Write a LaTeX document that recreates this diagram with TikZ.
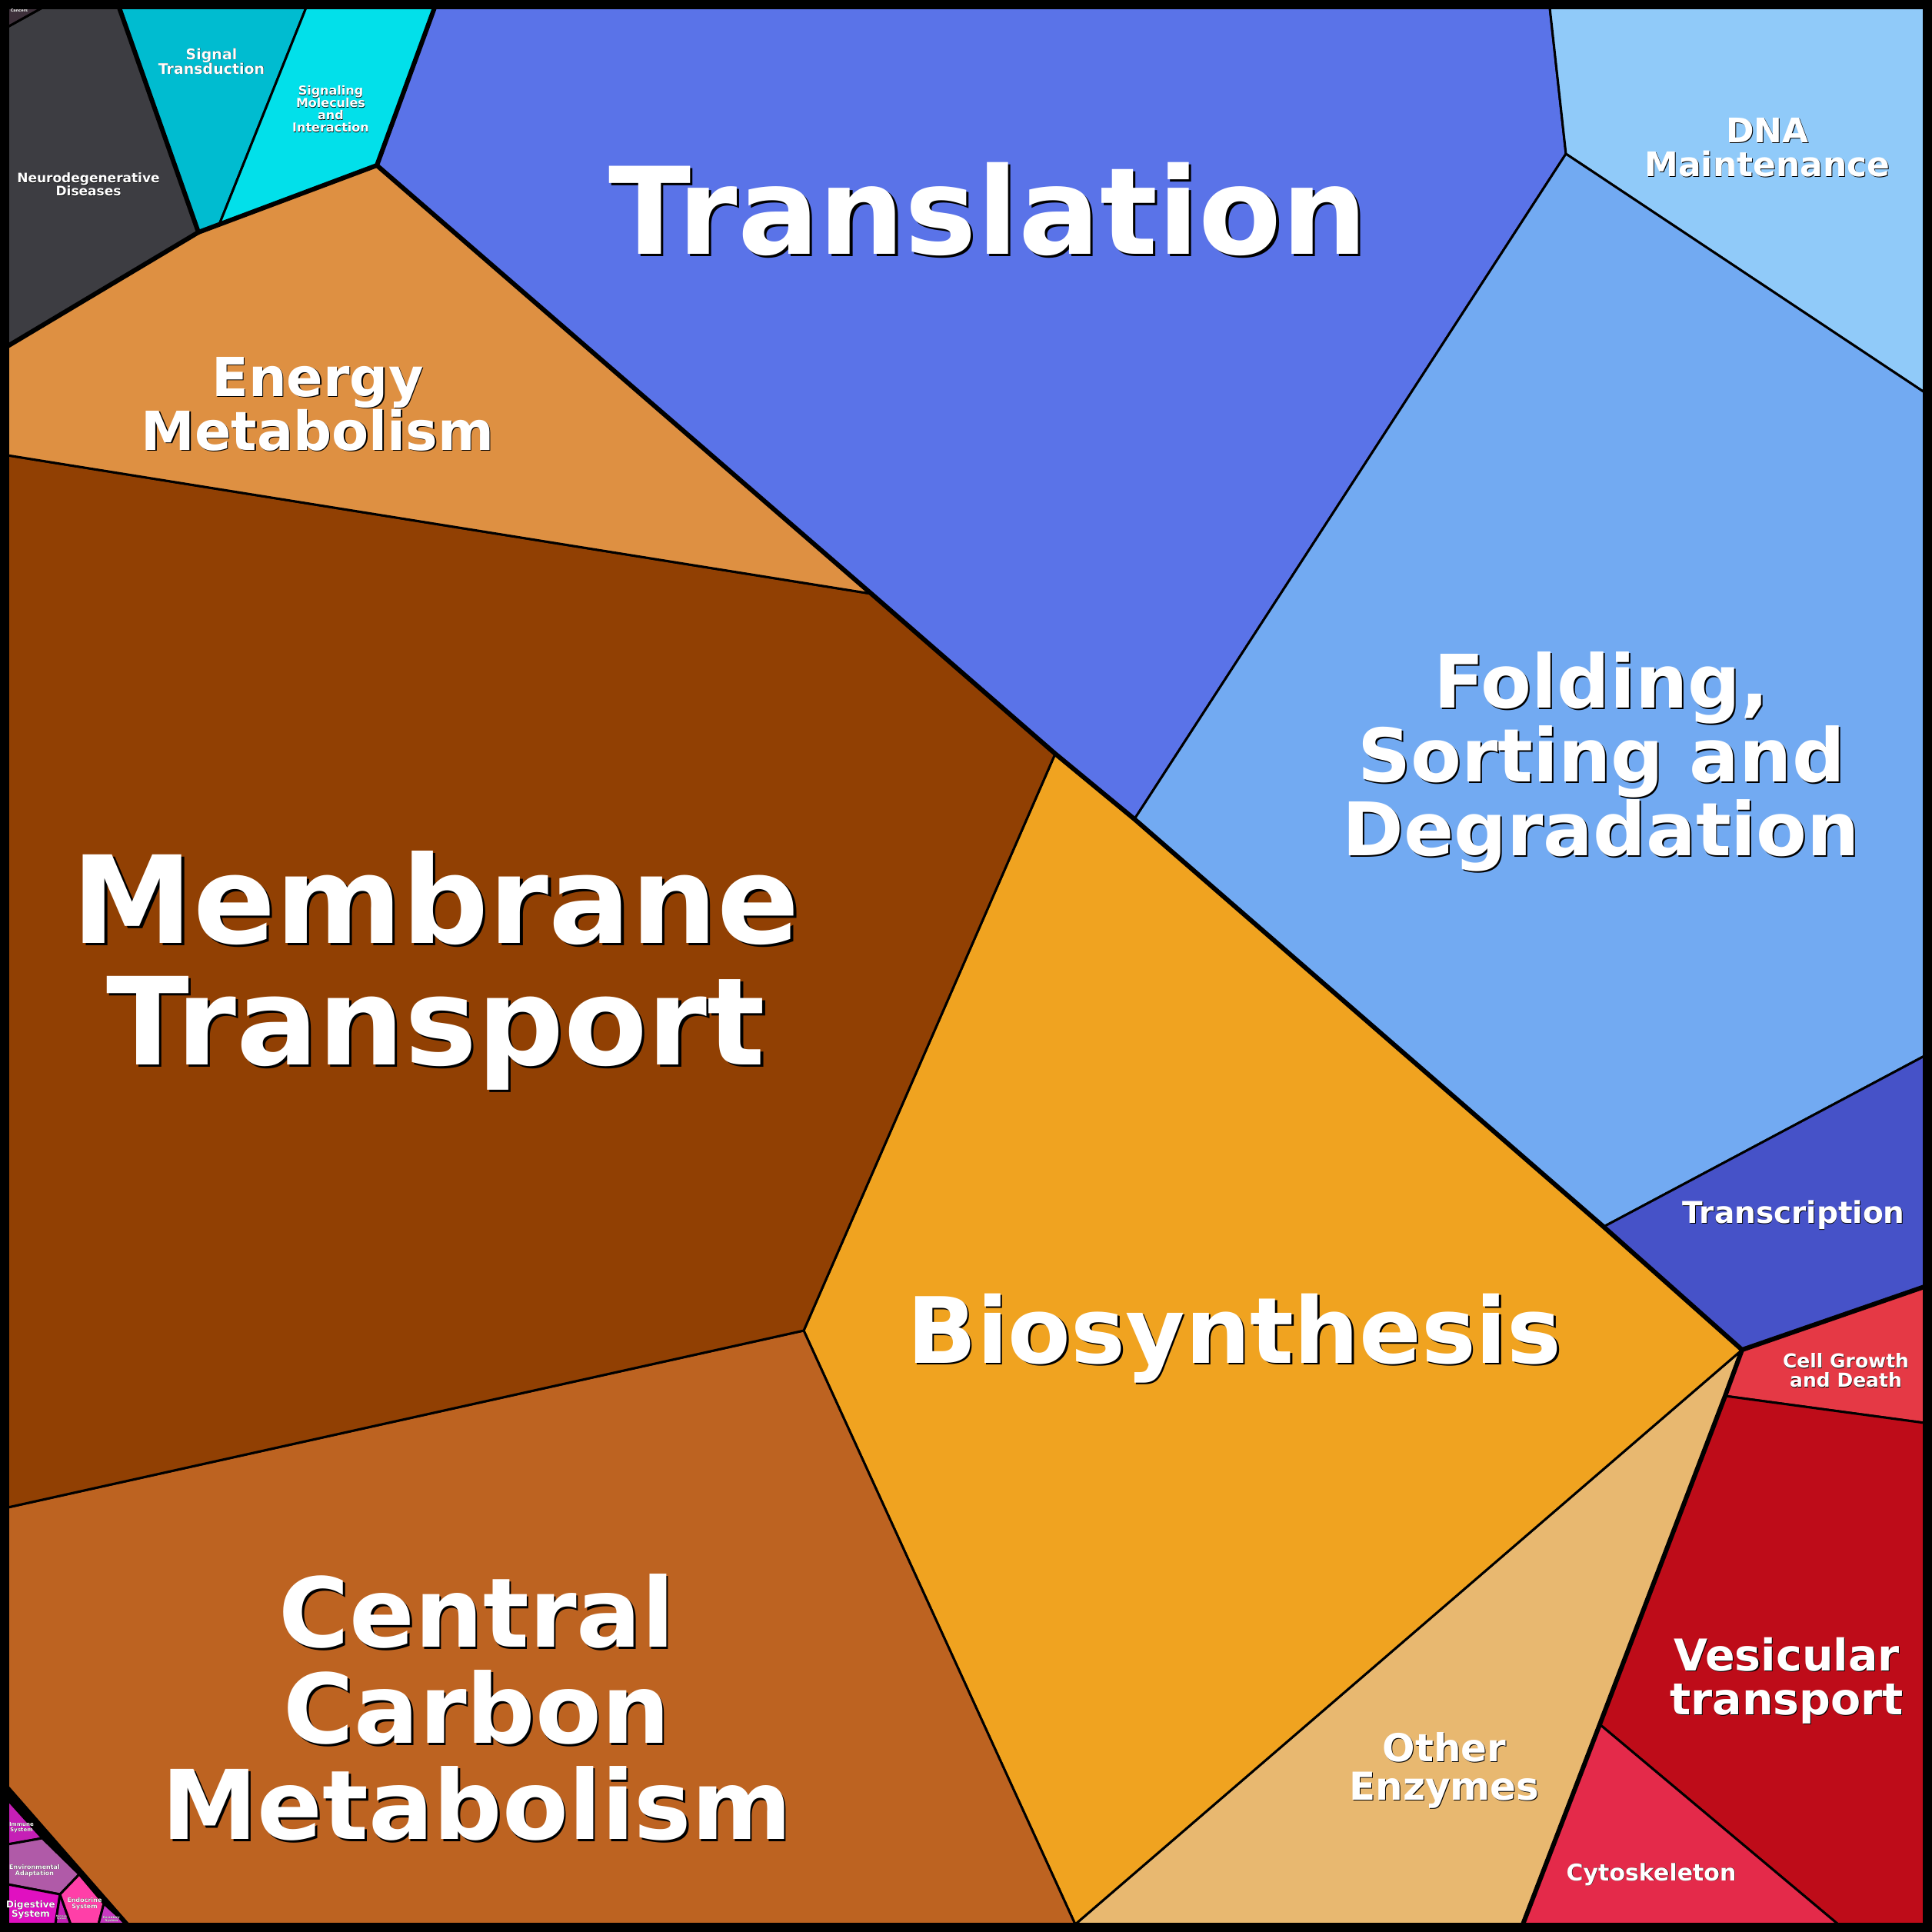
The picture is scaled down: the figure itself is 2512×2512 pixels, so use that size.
\documentclass[tikz,border=0pt]{standalone}
\usepackage{fontspec}
\setmainfont{DejaVu Sans}
\definecolor{cTransl}{HTML}{5A73E8}
\definecolor{cDNA}{HTML}{90CAF9}
\definecolor{cFold}{HTML}{72AAF2}
\definecolor{cTranscr}{HTML}{4652C8}
\definecolor{cGrowth}{HTML}{E53945}
\definecolor{cVesic}{HTML}{BE0C19}
\definecolor{cCyto}{HTML}{E42A4A}
\definecolor{cOther}{HTML}{E8B870}
\definecolor{cBiosyn}{HTML}{F0A320}
\definecolor{cCentral}{HTML}{BD6321}
\definecolor{cMembr}{HTML}{914003}
\definecolor{cEnergy}{HTML}{DE9042}
\definecolor{cNeuro}{HTML}{3D3D42}
\definecolor{cSignal}{HTML}{00BCD0}
\definecolor{cSigMol}{HTML}{02E0EA}
\definecolor{cCancer}{HTML}{3D2F3A}
\definecolor{cImmune}{HTML}{C51FB6}
\definecolor{cEnv}{HTML}{B05AA8}
\definecolor{cDigest}{HTML}{E010C0}
\definecolor{cEndo}{HTML}{FF3FA8}
\definecolor{cExcr}{HTML}{C838C0}
\tikzset{
  cell/.style={draw=black, line width=3pt, line join=round},
  group/.style={draw=black, line width=6pt, line join=round, line cap=round},
  lbl/.style={align=center, inner sep=0pt, font=\bfseries}
}
% label with a black drop shadow
\newcommand{\lbl}[4]{%
  \node[lbl, text=black, font=\bfseries\fontsize{#3}{#3}\selectfont]
    at ([shift={(#3*0.02,#3*0.02)}]#2) {#4};
  \node[lbl, text=white, font=\bfseries\fontsize{#3}{#3}\selectfont]
    (#1) at (#2) {#4};}
\begin{document}
\begin{tikzpicture}[x=1pt,y=-1pt]
  \useasboundingbox (0,0) rectangle (2512,2512);
  \fill[black] (0,0) rectangle (2512,2512);
  % cells
  \filldraw[cell, fill=cTransl] (565,10) -- (2015,10) -- (2036,200) -- (1475,1065) -- (1372,980) -- (1133,772) -- (490,215) -- cycle;
  \filldraw[cell, fill=cDNA] (2015,10) -- (2502,10) -- (2502,510) -- (2036,200) -- cycle;
  \filldraw[cell, fill=cFold] (2036,200) -- (2502,510) -- (2502,1373) -- (2085,1595) -- (1475,1065) -- cycle;
  \filldraw[cell, fill=cTranscr] (2085,1595) -- (2502,1373) -- (2502,1673) -- (2265,1755) -- cycle;
  \filldraw[cell, fill=cGrowth] (2265,1755) -- (2502,1673) -- (2502,1850) -- (2243,1815) -- cycle;
  \filldraw[cell, fill=cVesic] (2243,1815) -- (2502,1850) -- (2502,2502) -- (2390,2502) -- (2080,2242) -- cycle;
  \filldraw[cell, fill=cCyto] (2080,2242) -- (2390,2502) -- (1980,2502) -- cycle;
  \filldraw[cell, fill=cOther] (2265,1755) -- (2243,1815) -- (2080,2242) -- (1980,2502) -- (1398,2502) -- cycle;
  \filldraw[cell, fill=cBiosyn] (1372,980) -- (1475,1065) -- (2085,1595) -- (2265,1755) -- (1398,2502) -- (1045,1730) -- cycle;
  \filldraw[cell, fill=cCentral] (10,1960) -- (1045,1730) -- (1398,2502) -- (165,2502) -- (10,2325) -- cycle;
  \filldraw[cell, fill=cMembr] (10,592) -- (1133,772) -- (1372,980) -- (1045,1730) -- (10,1960) -- cycle;
  \filldraw[cell, fill=cEnergy] (10,450) -- (258,302) -- (490,215) -- (1133,772) -- (10,592) -- cycle;
  \filldraw[cell, fill=cNeuro] (10,35) -- (55,10) -- (155,10) -- (258,302) -- (10,450) -- cycle;
  \filldraw[cell, fill=cCancer] (10,10) -- (55,10) -- (10,35) -- cycle;
  \filldraw[cell, fill=cSignal] (155,10) -- (398,10) -- (285,292) -- (258,302) -- cycle;
  \filldraw[cell, fill=cSigMol] (398,10) -- (565,10) -- (490,215) -- (285,292) -- cycle;
  \filldraw[cell, fill=cImmune] (10,2340) -- (55,2390) -- (10,2398) -- cycle;
  \filldraw[cell, fill=cEnv] (10,2398) -- (55,2390) -- (103,2437) -- (78,2463) -- (10,2450) -- cycle;
  \filldraw[cell, fill=cDigest] (10,2450) -- (78,2463) -- (72,2502) -- (10,2502) -- cycle;
  \filldraw[cell, fill=cImmune] (78,2463) -- (72,2502) -- (92,2502) -- cycle;
  \filldraw[cell, fill=cEndo] (78,2463) -- (103,2437) -- (135,2475) -- (128,2502) -- (92,2502) -- cycle;
  \filldraw[cell, fill=cExcr] (135,2475) -- (165,2502) -- (128,2502) -- cycle;
  % group borders
  \draw[group] (565,10) -- (490,215) -- (1133,772) -- (1372,980) -- (1475,1065) -- (2085,1595) -- (2265,1755) -- (2502,1673);
  \draw[group] (2265,1755) -- (2243,1815) -- (2080,2242) -- (1980,2502);
  \draw[group] (10,450) -- (258,302) -- (490,215);
  \draw[group] (155,10) -- (258,302);
  \draw[group] (10,2325) -- (165,2502);
  \draw[black, line width=12pt] (6,6) rectangle (2506,2506);
  % labels
  \lbl{transl}{1285,272}{157}{Translation}
  \lbl{dna}{2298,192}{44}{DNA\\Maintenance}
  \lbl{fold}{2082,990}{96}{Folding,\\Sorting and\\Degradation}
  \lbl{transcr}{2332,1580}{39}{Transcription}
  \lbl{growth}{2400,1782}{25}{Cell Growth\\and Death}
  \lbl{vesic}{2323,2185}{57}{Vesicular\\transport}
  \lbl{cyto}{2147,2437}{30}{Cytoskeleton}
  \lbl{other}{1878,2302}{50}{Other\\Enzymes}
  \lbl{biosyn}{1605,1740}{119}{Biosynthesis}
  \lbl{central}{620,2220}{125}{Central\\Carbon\\Metabolism}
  \lbl{membr}{567,1262}{158}{Membrane\\Transport}
  \lbl{energy}{413,525}{70}{Energy\\Metabolism}
  \lbl{neuro}{115,240}{17}{Neurodegenerative\\Diseases}
  \lbl{signal}{275,80}{19}{Signal\\Transduction}
  \lbl{sigmol}{430,142}{16}{Signaling\\Molecules\\and\\Interaction}
  \lbl{cancer}{25,14}{5}{Cancers}
  \lbl{immune}{28,2376}{7}{Immune\\System}
  \lbl{env}{45,2432}{8}{Environmental\\Adaptation}
  \lbl{digest}{40,2483}{12}{Digestive\\System}
  \lbl{endo}{110,2475}{8}{Endocrine\\System}
  \lbl{excr}{145,2495}{4}{Excretory\\System}
  \lbl{nerv}{80,2493}{3}{Nervous\\System}
\end{tikzpicture}
\end{document}
